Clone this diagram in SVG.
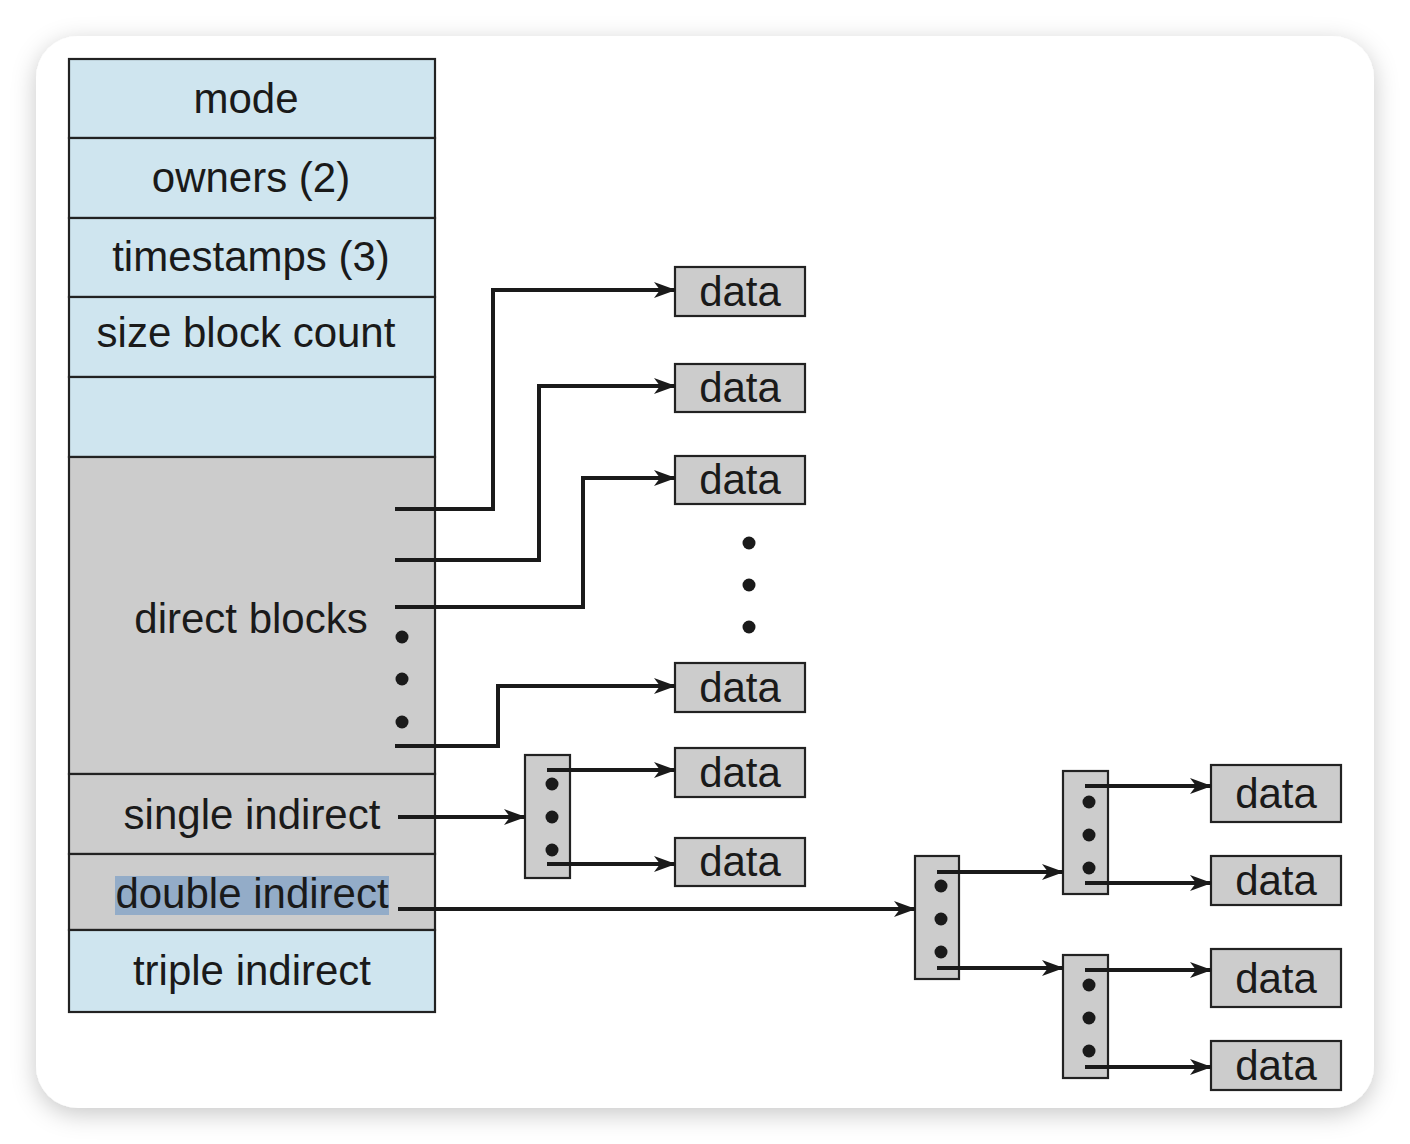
<svg xmlns="http://www.w3.org/2000/svg" width="1410" height="1144" viewBox="0 0 1410 1144">
<defs>
<filter id="sh" x="-10%" y="-10%" width="120%" height="120%">
<feDropShadow dx="0" dy="6" stdDeviation="12" flood-color="#000" flood-opacity="0.22"/>
</filter>
<marker id="ah" markerUnits="userSpaceOnUse" markerWidth="24" markerHeight="18" refX="21" refY="8" orient="auto">
<path d="M0,0 L22,8 L0,16 L6,8 Z" fill="#1a1a1a"/>
</marker>
<style>
.blue{fill:#cfe5ef;stroke:#222;stroke-width:2.2}
.gray{fill:#cccccc;stroke:#222;stroke-width:2.2}
.t{font-family:"Liberation Sans",Arial,sans-serif;font-size:42px;fill:#1a1a1a;text-anchor:middle}
.c{fill:none;stroke:#1a1a1a;stroke-width:4}
.a{marker-end:url(#ah)}
.dot{fill:#1a1a1a}
</style>
</defs>
<rect x="0" y="0" width="1410" height="1144" fill="#ffffff"/>
<rect x="36" y="36" width="1338" height="1072" rx="42" fill="#ffffff" filter="url(#sh)"/>

<g id="inode">
<rect class="blue" x="69" y="59" width="366" height="79"/>
<text class="t" x="246" y="113">mode</text>
<rect class="blue" x="69" y="138" width="366" height="80"/>
<text class="t" x="251" y="192">owners (2)</text>
<rect class="blue" x="69" y="218" width="366" height="79"/>
<text class="t" x="251" y="271">timestamps (3)</text>
<rect class="blue" x="69" y="297" width="366" height="80"/>
<text class="t" x="246" y="347">size block count</text>
<rect class="blue" x="69" y="377" width="366" height="80"/>
<rect class="gray" x="69" y="457" width="366" height="317"/>
<text class="t" x="251" y="633">direct blocks</text>
<circle class="dot" cx="402" cy="637" r="6.5"/>
<circle class="dot" cx="402" cy="679" r="6.5"/>
<circle class="dot" cx="402" cy="722" r="6.5"/>
<rect class="gray" x="69" y="774" width="366" height="80"/>
<text class="t" x="252" y="829">single indirect</text>
<rect class="gray" x="69" y="854" width="366" height="76"/>
<rect x="115" y="876" width="274" height="39" fill="#93acc8"/>
<text class="t" x="252" y="908">double indirect</text>
<rect class="blue" x="69" y="930" width="366" height="82"/>
<text class="t" x="252" y="985">triple indirect</text>
</g>

<g id="data1"><rect class="gray" x="675" y="267" width="130" height="49"/><text class="t" x="740" y="306">data</text></g>
<g id="data2"><rect class="gray" x="675" y="364" width="130" height="48"/><text class="t" x="740" y="402">data</text></g>
<g id="data3"><rect class="gray" x="675" y="456" width="130" height="48"/><text class="t" x="740" y="494">data</text></g>
<g id="vdots">
<circle class="dot" cx="749" cy="543" r="6.5"/>
<circle class="dot" cx="749" cy="585" r="6.5"/>
<circle class="dot" cx="749" cy="627" r="6.5"/>
</g>
<g id="data4"><rect class="gray" x="675" y="663" width="130" height="49"/><text class="t" x="740" y="702">data</text></g>
<g id="data5"><rect class="gray" x="675" y="748" width="130" height="49"/><text class="t" x="740" y="787">data</text></g>
<g id="data6"><rect class="gray" x="675" y="838" width="130" height="48"/><text class="t" x="740" y="876">data</text></g>

<g id="single-block">
<rect class="gray" x="525" y="755" width="45" height="123"/>
<circle class="dot" cx="552" cy="784" r="6.5"/>
<circle class="dot" cx="552" cy="817" r="6.5"/>
<circle class="dot" cx="552" cy="850" r="6.5"/>
</g>
<g id="double-block">
<rect class="gray" x="915" y="856" width="44" height="123"/>
<circle class="dot" cx="941" cy="886" r="6.5"/>
<circle class="dot" cx="941" cy="919" r="6.5"/>
<circle class="dot" cx="941" cy="952" r="6.5"/>
</g>
<g id="double-sub1">
<rect class="gray" x="1063" y="771" width="45" height="123"/>
<circle class="dot" cx="1089" cy="802" r="6.5"/>
<circle class="dot" cx="1089" cy="835" r="6.5"/>
<circle class="dot" cx="1089" cy="868" r="6.5"/>
</g>
<g id="double-sub2">
<rect class="gray" x="1063" y="955" width="45" height="123"/>
<circle class="dot" cx="1089" cy="985" r="6.5"/>
<circle class="dot" cx="1089" cy="1018" r="6.5"/>
<circle class="dot" cx="1089" cy="1051" r="6.5"/>
</g>
<g id="data7"><rect class="gray" x="1211" y="765" width="130" height="57"/><text class="t" x="1276" y="808">data</text></g>
<g id="data8"><rect class="gray" x="1211" y="856" width="130" height="49"/><text class="t" x="1276" y="895">data</text></g>
<g id="data9"><rect class="gray" x="1211" y="949" width="130" height="58"/><text class="t" x="1276" y="993">data</text></g>
<g id="data10"><rect class="gray" x="1211" y="1041" width="130" height="49"/><text class="t" x="1276" y="1080">data</text></g>

<g id="connectors">
<path class="c a" d="M395,509 H493 V290 H675"/>
<path class="c a" d="M395,560 H539 V386 H675"/>
<path class="c a" d="M395,607 H583 V478 H675"/>
<path class="c a" d="M395,746 H498 V686 H675"/>
<path class="c a" d="M398,817 H525"/>
<path class="c a" d="M547,770 H675"/>
<path class="c a" d="M547,864 H675"/>
<path class="c a" d="M398,909 H915"/>
<path class="c a" d="M937,872 H1063"/>
<path class="c a" d="M937,968 H1063"/>
<path class="c a" d="M1085,786 H1211"/>
<path class="c a" d="M1085,883 H1211"/>
<path class="c a" d="M1085,970 H1211"/>
<path class="c a" d="M1085,1067 H1211"/>
</g>
</svg>
